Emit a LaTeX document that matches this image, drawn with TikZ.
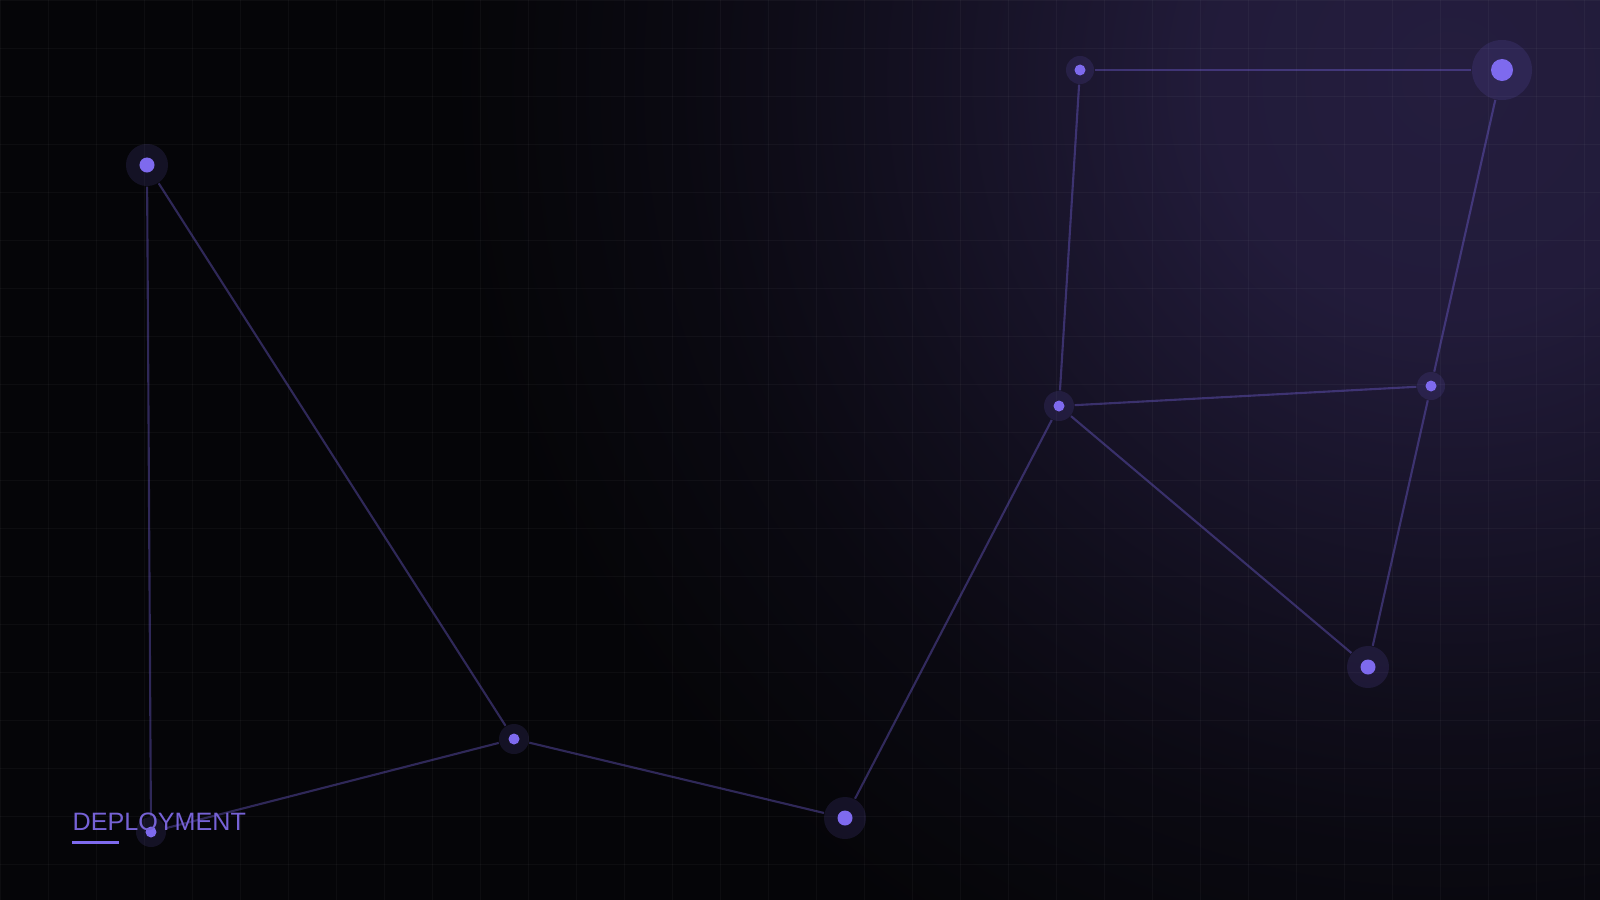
\documentclass[tikz,border=0pt]{standalone}
\usepackage{fontspec}
\setmainfont{Liberation Sans}
\usepackage{tikz}
\usepackage{xcolor}

\definecolor{bgdark}{RGB}{5,5,8}
\definecolor{glow}{RGB}{36,29,62}
\definecolor{dotpurple}{RGB}{126,106,238}
\definecolor{textpurple}{RGB}{118,98,214}
\pgfdeclareradialshading{topglow}{\pgfpointorigin}{color(0bp)=(glow); color(6bp)=(glow!92!bgdark); color(15bp)=(glow!38!bgdark); color(19bp)=(glow!18!bgdark); color(25bp)=(bgdark); color(50bp)=(bgdark)}

\begin{document}
\begin{tikzpicture}[x=0.01cm,y=-0.01cm,
    halo/.style={circle,inner sep=0pt,minimum size=#1,fill=dotpurple,fill opacity=0.13},
    link/.style={dotpurple,draw opacity=0.35,line width=0.6pt},
    gridline/.style={white,draw opacity=0.035,line width=0.28pt}]
    \useasboundingbox (0,0) rectangle (1600,900);

    % Background & glow
    \fill [bgdark] (0,0) rectangle (1600,900);
    \begin{scope}
        \clip (0,0) rectangle (1600,900);
        \shade [shading=topglow] (1450,80) circle [radius=10cm];
    \end{scope}

    % Grid
    \foreach \gx in {0,48,...,1584}
        \draw [gridline] (\gx,0) to (\gx,900);
    \foreach \gy in {0,48,...,864}
        \draw [gridline] (0,\gy) to (1600,\gy);

    % Halos
    \node (A) at (147,165) [halo=0.42cm] {};
    \node (B) at (151,832) [halo=0.30cm] {};
    \node (C) at (514,739) [halo=0.30cm] {};
    \node (D) at (845,818) [halo=0.42cm] {};
    \node (E) at (1059,406) [halo=0.30cm] {};
    \node (F) at (1080,70) [halo=0.28cm] {};
    \node (G) at (1502,70) [halo=0.60cm] {};
    \node (H) at (1431,386) [halo=0.28cm] {};
    \node (I) at (1368,667) [halo=0.42cm] {};

    % Links
    \draw [link] (A) to (B);
    \draw [link] (A) to (C);
    \draw [link] (C) to (B);
    \draw [link] (C) to (D);
    \draw [link] (D) to (E);
    \draw [link] (E) to (F);
    \draw [link] (F) to (G);
    \draw [link] (G) to (H);
    \draw [link] (H) to (E);
    \draw [link] (E) to (I);
    \draw [link] (I) to (H);

    % Dots
    \fill [dotpurple] (A) circle [radius=0.075cm];
    \fill [dotpurple] (B) circle [radius=0.055cm];
    \fill [dotpurple] (C) circle [radius=0.055cm];
    \fill [dotpurple] (D) circle [radius=0.075cm];
    \fill [dotpurple] (E) circle [radius=0.055cm];
    \fill [dotpurple] (F) circle [radius=0.055cm];
    \fill [dotpurple] (G) circle [radius=0.11cm];
    \fill [dotpurple] (H) circle [radius=0.055cm];
    \fill [dotpurple] (I) circle [radius=0.075cm];

    % Label
    \node (stage) at (72,830) [anchor=base west,inner sep=0pt,text=textpurple,
        font=\fontsize{7.15}{8}\selectfont] {DEPLOYMENT};
    \draw [dotpurple,line width=0.85pt] (72,842) to (119,842);
\end{tikzpicture}
\end{document}
